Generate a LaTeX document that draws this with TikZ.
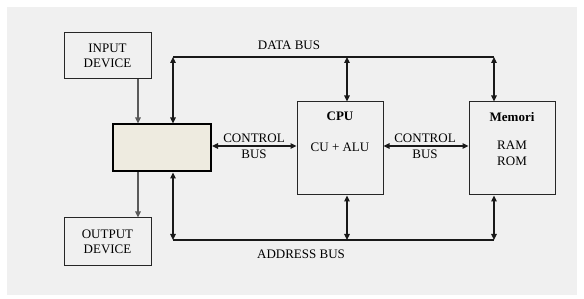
\documentclass[tikz,border=0pt]{standalone}
\usepackage{fontspec}
\setmainfont{Liberation Serif}
\usetikzlibrary{arrows.meta}
\definecolor{bggray}{HTML}{F0F0F0}
\definecolor{boxfill}{HTML}{EEEBE0}
\definecolor{linegray}{HTML}{5A5A5A}
\tikzset{
  every node/.style={font=\fontsize{13}{15}\selectfont, inner sep=0pt},
  unit/.style={draw=black!85, line width=1pt, fill=bggray, align=center},
  busline/.style={draw=black!90, line width=1.2pt},
  busarrow/.style={busline, {Triangle[length=6pt,width=5.5pt]}-{Triangle[length=6pt,width=5.5pt]}},
  ioarrow/.style={draw=linegray, line width=1.2pt, -{Triangle[length=6pt,width=5.5pt]}},
  lbl/.style={align=center, font=\fontsize{13}{16}\selectfont}
}
\begin{document}
\begin{tikzpicture}[x=1pt,y=-1pt]
\useasboundingbox (0,0) rectangle (584,299);
\fill[white] (0,0) rectangle (584,299);
\fill[bggray] (7,7) rectangle (577,295);

\node[unit, minimum width=87pt, minimum height=46pt] (in) at (107.5,56) {INPUT\\DEVICE};
\node[unit, minimum width=87pt, minimum height=48pt] (out) at (107.5,242) {OUTPUT\\DEVICE};
\node[draw=black, line width=2pt, fill=boxfill, minimum width=98pt, minimum height=47pt] (mid) at (162,148) {};
\node[unit, minimum width=86pt, minimum height=93pt] (cpu) at (340,148.5) {};
\node[unit, minimum width=86pt, minimum height=93pt] (mem) at (512,148.5) {};

\node (cputitle) at (340,116) {\bfseries CPU};
\node (cpubody) at (340,147) {CU + ALU};
\node (memtitle) at (512,117) {\bfseries Memori};
\node[lbl] (membody) at (512,153) {RAM\\ROM};

% bus corners
\coordinate (d1) at (173,57);
\coordinate (d2) at (347,57);
\coordinate (d3) at (494,57);
\coordinate (a1) at (173,240);
\coordinate (a2) at (347,240);
\coordinate (a3) at (494,240);

% data bus
\draw[busline] (d1) -- (d3);
\draw[busarrow] (d1) -- (mid.north -| d1);
\draw[busarrow] (d2) -- (cpu.north -| d2);
\draw[busarrow] (d3) -- (mem.north -| d3);
\node (dlabel) at (289,45) {DATA BUS};

% address bus
\draw[busline] (a1) -- (a3);
\draw[busarrow] (mid.south -| a1) -- (a1);
\draw[busarrow] (cpu.south -| a2) -- (a2);
\draw[busarrow] (mem.south -| a3) -- (a3);
\node (alabel) at (301,254) {ADDRESS BUS};

% control buses
\coordinate (c1) at (0,146);
\draw[busarrow] (mid.east |- c1) -- (cpu.west |- c1);
\draw[busarrow] (cpu.east |- c1) -- (mem.west |- c1);
\node[lbl] (cb1) at (254,146) {CONTROL\\BUS};
\node[lbl] (cb2) at (425,146) {CONTROL\\BUS};

% I/O
\coordinate (io) at (138,0);
\draw[ioarrow] (in.south -| io) -- (mid.north -| io);
\draw[ioarrow] (mid.south -| io) -- (out.north -| io);
\end{tikzpicture}
\end{document}
